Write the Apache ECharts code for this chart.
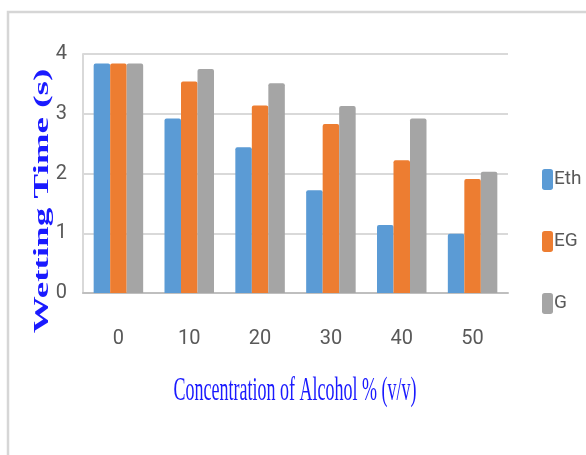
<!DOCTYPE html>
<html>
<head>
<meta charset="utf-8">
<script src="https://cdn.jsdelivr.net/npm/echarts@6/dist/echarts.min.js"></script>
<style>html,body{margin:0;padding:0;background:#fff}#c{width:586px;height:455px}</style>
</head>
<body>
<div id="c"></div>
<script>
var categories = ['0', '10', '20', '30', '40', '50'];
var seriesNames = ['Eth', 'EG', 'G'];
var eth = [3.84, 2.92, 2.44, 1.72, 1.14, 0.99];
var eg  = [3.84, 3.54, 3.14, 2.83, 2.22, 1.91];
var g   = [3.84, 3.75, 3.51, 3.13, 2.92, 2.03];
var yTicks = [0, 1, 2, 3, 4];
var xTitle = 'Concentration of Alcohol % (v/v)';
var yTitle = 'Wetting Time (s)';

var narrow = "'Liberation Sans Narrow', Roboto, 'Liberation Sans', sans-serif";
var colors = ['#5B9BD5', '#ED7D31', '#A5A5A5'];
var chart = echarts.init(document.getElementById('c'), null, {renderer: 'canvas'});

function bar(name, data, color) {
  return {
    name: name, type: 'bar', data: data, barWidth: 16.5, barGap: '0%',
    itemStyle: {color: color, borderRadius: [2, 2, 0, 0]}
  };
}

chart.setOption({
  animation: false,
  backgroundColor: '#fff',
  grid: {left: 83, right: 78, top: 54, bottom: 162},
  legend: {
    orient: 'vertical', left: 537, top: 164,
    itemWidth: 11, itemHeight: 21, itemGap: 41,
    icon: 'roundRect',
    textStyle: {color: '#595959', fontSize: 19, fontFamily: narrow, padding: [0, 0, 0, -4]},
    data: seriesNames
  },
  xAxis: {
    type: 'category', data: categories,
    axisLine: {show: true, lineStyle: {color: '#BFBFBF', width: 2}},
    axisTick: {show: false},
    axisLabel: {color: '#595959', fontSize: 20, fontFamily: narrow, margin: 36}
  },
  yAxis: {
    type: 'value', min: yTicks[0], max: yTicks[yTicks.length - 1], interval: 1,
    axisLine: {show: true, lineStyle: {color: '#D9D9D9', width: 2}},
    axisTick: {show: false},
    splitLine: {lineStyle: {color: '#D9D9D9', width: 2}},
    axisLabel: {color: '#595959', fontSize: 20, fontFamily: narrow, margin: 16}
  },
  series: [bar(seriesNames[0], eth, colors[0]), bar(seriesNames[1], eg, colors[1]), bar(seriesNames[2], g, colors[2])],
  graphic: [
    {type: 'polyline', shape: {points: [[8, 460], [8, 12], [600, 12]]}, style: {stroke: '#D6D6D6', lineWidth: 2.5, fill: null}, z: -1},
    {type: 'text', x: 295, y: 391, scaleY: 1.85,
     style: {text: xTitle, font: "18px 'Liberation Serif', 'Times New Roman', serif", fill: '#1a1aff', align: 'center', verticalAlign: 'middle'}},
    {type: 'text', x: 43, y: 201, rotation: Math.PI / 2, scaleX: 1.85,
     style: {text: yTitle, font: "bold 20px 'Liberation Serif', 'Times New Roman', serif", fill: '#1a1aff', align: 'center', verticalAlign: 'middle'}}
  ]
});
</script>
</body>
</html>
